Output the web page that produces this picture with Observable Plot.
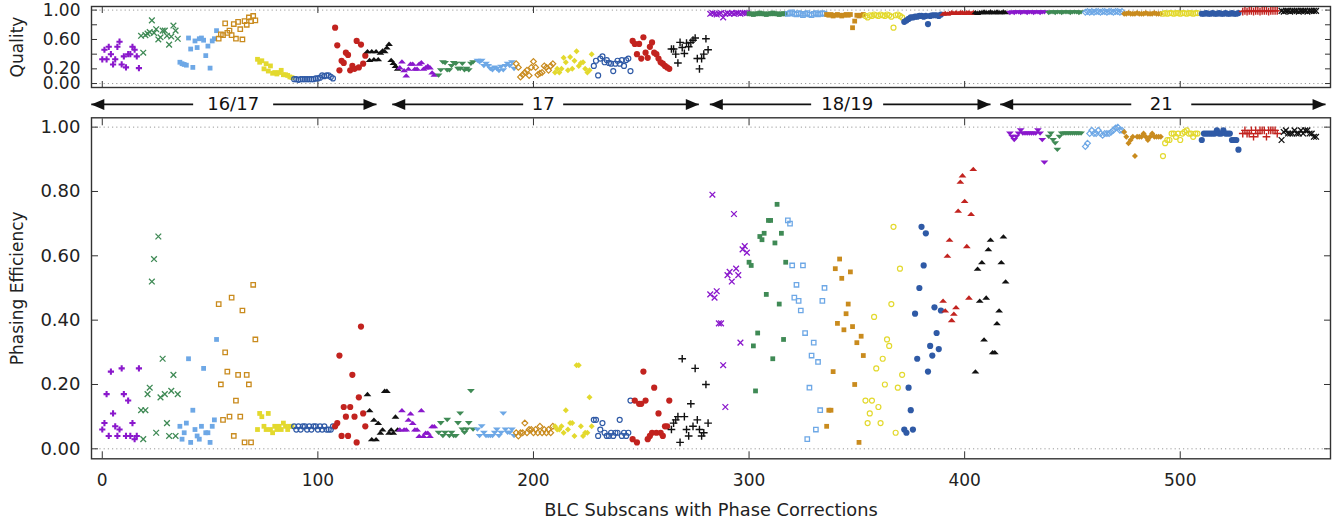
<!DOCTYPE html>
<html><head><meta charset="utf-8">
<script src="https://cdn.jsdelivr.net/npm/d3@7"></script>
<script src="https://cdn.jsdelivr.net/npm/@observablehq/plot@0.6"></script>
<style>
body{margin:0;background:#fff;}
#chart{position:relative;width:1343px;height:525px;background:#fff;}
#top{position:absolute;left:0;top:0;}
#bottom{position:absolute;left:0;top:112px;}
</style></head><body><div id="chart"><div id="top"></div><div id="bottom"></div></div>
<script>
// ---------------- DATA ----------------
// first BLC subscan index of each group of points
const groupStart = [0,18,36,54,72,89,108,123, 138,156,174,192,210,228,246,264,
  282,300,318,336,354,372,390,405, 421,439,456,474,492,510,529,547];

// Quality (top panel), one list per group
const quality = [
 [0.33,0.46,0.33,0.50,0.40,0.26,0.33,0.50,0.57,0.26,0.37,0.22,0.40,0.40,0.50,0.46,0.37,0.21],
 [0.65,0.42,0.66,0.68,0.70,0.86,0.69,0.74,0.60,0.63,0.72,0.72,0.65,0.53,0.64,0.79,0.72,0.61],
 [0.29,0.27,0.26,0.25,0.62,0.47,0.22,0.58,0.49,0.61,0.62,0.59,0.38,0.51,0.21,0.58,0.61,0.72],
 [0.61,0.67,0.66,0.82,0.69,0.72,0.66,0.81,0.61,0.84,0.74,0.60,0.85,0.80,0.90,0.85,0.92,0.86],
 [0.33,0.29,0.31,0.20,0.27,0.17,0.24,0.14,0.15,0.13,0.15,0.18,0.12,0.12,0.11,0.09,0.08],
 [0.06,0.06,0.05,0.06,0.06,0.06,0.06,0.06,0.06,0.06,0.07,0.07,0.08,0.11,0.10,0.11,0.11,0.09,0.07],
 [0.76,0.52,0.18,0.31,0.28,0.42,0.39,0.18,0.24,0.20,0.58,0.22,0.53,0.27,0.38],
 [0.44,0.32,0.44,0.33,0.44,0.33,0.42,0.45,0.44,0.49,0.54,0.32,0.28,0.24,0.20],
 [0.22,0.30,0.18,0.11,0.20,0.27,0.27,0.20,0.20,0.27,0.29,0.20,0.22,0.24,0.22,0.15,0.12],
 [0.11,0.18,0.29,0.28,0.18,0.18,0.24,0.28,0.27,0.20,0.20,0.27,0.18,0.20,0.18,0.27,0.29],
 [0.31,0.29,0.31,0.24,0.27,0.24,0.20,0.18,0.22,0.20,0.17,0.23,0.18,0.24,0.27,0.24,0.29,0.20],
 [0.27,0.22,0.09,0.12,0.15,0.18,0.11,0.22,0.30,0.22,0.12,0.14,0.15,0.24,0.22,0.18,0.24,0.27],
 [0.15,0.20,0.15,0.20,0.35,0.29,0.18,0.36,0.20,0.31,0.44,0.24,0.28,0.29,0.20,0.15,0.18,0.40],
 [0.24,0.31,0.11,0.34,0.37,0.29,0.32,0.28,0.27,0.17,0.27,0.31,0.27,0.32,0.24,0.32,0.34,0.17],
 [0.58,0.54,0.40,0.54,0.34,0.63,0.42,0.35,0.50,0.56,0.42,0.40,0.34,0.29,0.27,0.24,0.22,0.20],
 [0.47,0.47,0.40,0.28,0.56,0.49,0.41,0.55,0.50,0.56,0.59,0.62,0.34,0.20,0.34,0.40,0.61,0.46],
 [0.95,0.96,0.95,0.94,0.95,0.96,0.90,0.95,0.96,0.95,0.96,0.95,0.96,0.96,0.95,0.96,0.96,0.96],
 [0.95,0.95,0.94,0.95,0.95,0.96,0.95,0.95,0.94,0.95,0.95,0.96,0.95,0.95,0.94,0.95,0.95,0.95],
 [0.95,0.96,0.97,0.95,0.94,0.96,0.95,0.93,0.95,0.96,0.94,0.93,0.95,0.96,0.94,0.95,0.96,0.95],
 [0.94,0.93,0.94,0.92,0.93,0.94,0.93,0.92,0.93,0.94,0.93,0.94,0.76,0.85,0.93,0.92,0.93,0.94],
 [0.92,0.90,0.93,0.92,0.94,0.93,0.92,0.94,0.93,0.92,0.94,0.93,0.91,0.76,0.93,0.94,0.92,0.90],
 [0.84,0.86,0.88,0.90,0.90,0.91,0.91,0.92,0.92,0.91,0.92,0.81,0.92,0.93,0.93,0.93,0.92,0.94],
 [0.95,0.96,0.95,0.96,0.97,0.96,0.97,0.96,0.97,0.97,0.96,0.97,0.97,0.96,0.97],
 [0.97,0.96,0.97,0.97,0.98,0.97,0.97,0.98,0.97,0.97,0.98,0.97,0.97,0.98,0.97],
 [0.96,0.97,0.96,0.97,0.97,0.96,0.97,0.97,0.96,0.97,0.97,0.96,0.97,0.97,0.96,0.97,0.97],
 [0.96,0.97,0.97,0.96,0.97,0.97,0.96,0.97,0.97,0.97,0.96,0.97,0.97,0.97,0.96,0.97],
 [0.97,0.98,0.97,0.98,0.97,0.98,0.98,0.97,0.98,0.98,0.97,0.98,0.98,0.97,0.98,0.98,0.97,0.98],
 [0.95,0.95,0.96,0.95,0.95,0.95,0.96,0.95,0.95,0.95,0.96,0.95,0.95,0.95,0.96,0.95,0.95,0.95],
 [0.95,0.96,0.95,0.96,0.96,0.95,0.96,0.96,0.95,0.96,0.96,0.95,0.96,0.96,0.95,0.96,0.96],
 [0.95,0.95,0.96,0.95,0.95,0.96,0.95,0.95,0.96,0.95,0.95,0.96,0.95,0.95,0.96,0.95,0.95,0.96],
 [0.98,0.99,0.98,0.99,0.99,0.98,0.99,0.99,0.98,0.99,0.99,0.99,0.98,0.99,0.99,0.99,0.99],
 [0.99,0.98,0.99,0.99,0.98,0.99,0.99,0.99,0.98,0.99,0.99,0.99,0.98,0.99,0.99,0.99,0.99]
];

// Phasing efficiency (bottom panel), one list per group
const efficiency = [
 [0.06,0.08,0.17,0.04,0.24,0.11,0.07,0.04,0.06,0.25,0.17,0.04,0.15,0.04,0.08,0.03,0.04,0.25],
 [0.12,0.03,0.12,0.17,0.19,0.52,0.59,0.05,0.66,0.16,0.28,0.17,0.08,0.04,0.18,0.23,0.04,0.17],
 [0.07,0.03,0.05,0.08,0.28,0.02,0.12,0.06,0.04,0.03,0.07,0.25,0.05,0.05,0.02,0.07,0.09,0.34],
 [0.45,0.20,0.09,0.30,0.24,0.10,0.47,0.04,0.15,0.23,0.10,0.43,0.02,0.23,0.20,0.02,0.51,0.34],
 [0.06,0.11,0.10,0.07,0.06,0.11,0.06,0.05,0.07,0.06,0.07,0.06,0.08,0.07,0.06,0.07,0.07],
 [0.07,0.06,0.07,0.06,0.07,0.07,0.06,0.07,0.06,0.07,0.07,0.06,0.07,0.06,0.07,0.06,0.06,0.06,0.07],
 [0.07,0.08,0.29,0.04,0.13,0.10,0.04,0.13,0.23,0.10,0.02,0.16,0.38,0.11,0.07],
 [0.17,0.12,0.03,0.09,0.03,0.08,0.05,0.06,0.18,0.18,0.05,0.06,0.05,0.10,0.06],
 [0.06,0.12,0.06,0.06,0.09,0.11,0.08,0.06,0.06,0.04,0.12,0.04,0.05,0.05,0.04,0.07,0.07],
 [0.05,0.08,0.04,0.05,0.09,0.04,0.05,0.04,0.04,0.08,0.11,0.06,0.05,0.06,0.08,0.18,0.06],
 [0.06,0.04,0.07,0.05,0.04,0.04,0.04,0.04,0.05,0.06,0.04,0.05,0.11,0.06,0.05,0.05,0.06,0.04],
 [0.05,0.04,0.05,0.05,0.08,0.05,0.06,0.06,0.05,0.06,0.05,0.07,0.05,0.06,0.05,0.06,0.05,0.07],
 [0.07,0.06,0.06,0.07,0.05,0.12,0.06,0.08,0.08,0.04,0.26,0.26,0.07,0.04,0.05,0.05,0.16,0.07],
 [0.09,0.09,0.04,0.06,0.08,0.05,0.04,0.04,0.05,0.04,0.05,0.05,0.09,0.04,0.05,0.04,0.05,0.15],
 [0.03,0.15,0.02,0.14,0.14,0.24,0.15,0.03,0.04,0.05,0.19,0.05,0.11,0.05,0.04,0.07,0.07,0.15],
 [0.06,0.08,0.09,0.10,0.02,0.28,0.10,0.06,0.04,0.14,0.07,0.25,0.09,0.06,0.04,0.05,0.20,0.08],
 [0.48,0.79,0.47,0.49,0.39,0.39,0.26,0.13,0.54,0.55,0.52,0.73,0.56,0.54,0.33,0.62,0.63,0.61],
 [0.58,0.57,0.32,0.18,0.36,0.66,0.65,0.67,0.48,0.71,0.71,0.28,0.64,0.76,0.45,0.67,0.34,0.58],
 [0.71,0.70,0.57,0.47,0.51,0.46,0.43,0.57,0.36,0.03,0.19,0.29,0.33,0.06,0.27,0.12,0.46,0.50],
 [0.07,0.12,0.12,0.24,0.56,0.39,0.59,0.53,0.37,0.42,0.45,0.55,0.38,0.20,0.33,0.02,0.35,0.29],
 [0.15,0.08,0.11,0.15,0.41,0.25,0.13,0.08,0.28,0.20,0.34,0.32,0.45,0.69,0.05,0.19,0.56,0.23],
 [0.06,0.05,0.19,0.12,0.06,0.42,0.28,0.50,0.69,0.57,0.67,0.24,0.32,0.29,0.44,0.36,0.31,0.43],
 [0.46,0.43,0.60,0.65,0.40,0.42,0.44,0.74,0.83,0.85,0.77,0.63,0.47,0.73,0.87],
 [0.24,0.56,0.46,0.58,0.34,0.47,0.62,0.65,0.30,0.30,0.39,0.43,0.58,0.66,0.52],
 [0.98,0.97,0.96,0.97,0.98,0.99,0.98,0.98,0.98,0.98,0.98,0.98,0.98,0.99,0.98,0.96,0.89],
 [0.97,0.98,0.96,0.95,0.93,0.97,0.98,0.98,0.98,0.98,0.98,0.98,0.98,0.98,0.98,0.98],
 [0.94,0.95,0.98,0.99,0.98,0.98,0.99,0.98,0.975,0.98,0.98,0.98,0.985,0.99,0.997,1.0,0.99,0.99],
 [0.985,0.97,0.95,0.96,0.97,0.91,0.97,0.97,0.97,0.98,0.97,0.96,0.97,0.98,0.97,0.97,0.97,0.97],
 [0.91,0.95,0.96,0.96,0.98,0.98,0.97,0.98,0.96,0.98,0.985,0.99,0.98,0.98,0.97,0.98,0.98],
 [0.96,0.98,0.98,0.98,0.98,0.98,0.98,0.99,0.98,0.98,0.99,0.98,0.98,0.98,0.96,0.96,0.96,0.93],
 [0.98,0.99,0.98,0.98,0.99,0.97,0.99,0.98,0.99,0.99,0.99,0.97,0.99,0.99,0.99,0.99,0.98],
 [0.96,0.985,0.99,0.98,0.98,0.98,0.99,0.98,0.98,0.99,0.98,0.99,0.99,0.98,0.98,0.97,0.97]
];

// observing sessions (arrows between the panels)
const sessionLabel  = ["16/17", "17", "18/19", "21"];
const sessionStart  = [-5.1, 134.5, 281.8, 416.5];
const sessionEnd    = [127.2, 276.7, 412.0, 567.4];
const sessionCenter = [60.7, 204.5, 345.5, 491.2];

const yTicks = [0, 0.2, 0.4, 0.6, 0.8, 1.0];
const yTicksTopLabeled = [0, 0.2, 0.6, 1.0];
const xTicks = [0, 100, 200, 300, 400, 500];

// ---------------- STYLE ----------------
const colorCycle = ["#8a18cc","#3f8a55","#6ea8e6","#c98b1e","#e3d92e","#2f5aa6","#c2231f","#111111"];
const groupSymbol = ["cross","times","squareF","squareO","squareF","circleO","circleF","triUp",
  "triUp","triDown","triDown","diamondO","diamondF","circleO","circleF","plus",
  "times","squareF","squareO","squareF","circleO","circleF","triUp","triUp",
  "triDown","triDown","diamondO","diamondF","circleO","circleF","plus","times"];
const sessionGapPx = [40, 20, 36, 30];

const triUpSym = {draw(c){ c.moveTo(0,-2.3); c.lineTo(3.9,2); c.lineTo(-3.9,2); c.closePath(); }};
const triDownSym = {draw(c){ c.moveTo(0,2.3); c.lineTo(3.9,-2); c.lineTo(-3.9,-2); c.closePath(); }};
const headRight = {draw(c){ c.moveTo(0,0); c.lineTo(-13,-5.5); c.lineTo(-13,5.5); c.closePath(); }};
const headLeft  = {draw(c){ c.moveTo(0,0); c.lineTo(13,-5.5); c.lineTo(13,5.5); c.closePath(); }};

const symbolStyles = {
  cross:   {symbol:"cross",    filled:true,  r:2.6},
  times:   {symbol:"times",    filled:false, r:2.7, sw:1.3},
  plus:    {symbol:"plus",     filled:false, r:2.6, sw:1.4},
  squareF: {symbol:"square",   filled:true,  r:2.7},
  squareO: {symbol:"square",   filled:false, r:2.5, sw:1.3},
  circleF: {symbol:"circle",   filled:true,  r:3.1},
  circleO: {symbol:"circle",   filled:false, r:2.5, sw:1.2},
  diamondF:{symbol:"diamond2", filled:true,  r:2.7},
  diamondO:{symbol:"diamond2", filled:false, r:2.6, sw:1.2},
  triUp:   {symbol:triUpSym,   filled:true,  r:3},
  triDown: {symbol:triDownSym, filled:true,  r:3}
};

const FONT = "DejaVu Sans";
const xDomain = [-5, 569.7];

function dotMarks(field) {
  return groupStart.map((start, g) => {
    const rows = efficiency[g].map((e, i) => ({x: start + i, e, q: quality[g][i]}))
      .filter(d => d[field] != null);
    const st = symbolStyles[groupSymbol[g]];
    const col = colorCycle[g % colorCycle.length];
    return Plot.dot(rows, {
      x: "x", y: field, symbol: st.symbol, r: st.r,
      fill: st.filled ? col : "none",
      stroke: st.filled ? "none" : col,
      strokeWidth: st.sw || 1.2
    });
  });
}

function frameMarks(labeledTicks, tickLen, labelSize) {
  const none = () => "";
  return [
    Plot.ruleY([0, 1], {stroke: "#9a9a9a", strokeWidth: 1, strokeDasharray: "1.2,3"}),
    Plot.axisY({anchor: "left", ticks: yTicks, tickSize: -tickLen, tickFormat: none, label: null, stroke: "#333"}),
    Plot.axisY({anchor: "right", ticks: yTicks, tickSize: -tickLen, tickFormat: none, label: null, stroke: "#333"}),
    Plot.axisY({anchor: "left", ticks: labeledTicks, tickSize: 0, tickPadding: 11, tickFormat: d3.format(".2f"), label: null, fontSize: labelSize, fill: "#222"}),
    Plot.axisX({anchor: "top", ticks: xTicks, tickSize: -tickLen, tickFormat: none, label: null, stroke: "#333"}),
    Plot.axisX({anchor: "bottom", ticks: xTicks, tickSize: -tickLen, tickFormat: none, label: null, stroke: "#333"}),
    Plot.frame({stroke: "#333", strokeWidth: 1.4})
  ];
}

// ---------------- TOP PANEL (Quality + session arrows) ----------------
const arrowRow = -0.285; // y level (in quality units) of the session arrows
const segs = [];
const heads = [];
sessionLabel.forEach((lab, i) => {
  const gap = sessionGapPx[i] / 2.156;
  segs.push({a: sessionStart[i], b: sessionCenter[i] - gap});
  segs.push({a: sessionCenter[i] + gap, b: sessionEnd[i]});
  heads.push({x: sessionStart[i], dir: "L"}, {x: sessionEnd[i], dir: "R"});
});
const sessions = sessionLabel.map((label, i) => ({label, x: sessionCenter[i]}));

const topPlot = Plot.plot({
  width: 1343, height: 112,
  marginLeft: 91, marginRight: 13, marginTop: 6, marginBottom: 25,
  x: {domain: xDomain},
  y: {domain: [-0.054, 1.049]},
  style: {fontFamily: FONT, fontSize: "17px", background: "transparent", overflow: "visible", color: "#222"},
  marks: [
    ...frameMarks(yTicksTopLabeled, 6, 17),
    ...dotMarks("q"),
    Plot.text(["Quality"], {frameAnchor: "left", dx: -74, rotate: -90, textAnchor: "middle", text: d => d, fontSize: 17, fill: "#222"}),
    Plot.link(segs, {x1: "a", x2: "b", y1: () => arrowRow, y2: () => arrowRow, stroke: "#111", strokeWidth: 1.8}),
    Plot.dot(heads.filter(d => d.dir === "L"), {x: "x", y: () => arrowRow, symbol: headLeft, r: 5, fill: "#111", stroke: "none"}),
    Plot.dot(heads.filter(d => d.dir === "R"), {x: "x", y: () => arrowRow, symbol: headRight, r: 5, fill: "#111", stroke: "none"}),
    Plot.text(sessions, {x: "x", y: () => arrowRow, text: "label", fontSize: 18, fill: "#111"})
  ]
});
document.getElementById("top").append(topPlot);

// ---------------- BOTTOM PANEL (Phasing efficiency) ----------------
const bottomPlot = Plot.plot({
  width: 1343, height: 413,
  marginLeft: 91, marginRight: 13, marginTop: 5.3, marginBottom: 66.7,
  x: {domain: xDomain},
  y: {domain: [-0.031, 1.029]},
  style: {fontFamily: FONT, fontSize: "17px", background: "transparent", overflow: "visible", color: "#222"},
  marks: [
    ...frameMarks(yTicks, 7, 18),
    Plot.axisX({anchor: "bottom", ticks: xTicks, tickSize: 0, tickPadding: 15, tickFormat: d3.format("d"), label: null, fontSize: 17, fill: "#222"}),
    ...dotMarks("e"),
    Plot.text(["Phasing Efficiency"], {frameAnchor: "left", dx: -74, rotate: -90, textAnchor: "middle", text: d => d, fontSize: 17, fill: "#222"}),
    Plot.text(["BLC Subscans with Phase Corrections"], {frameAnchor: "bottom", dy: 57, text: d => d, fontSize: 17.8, fill: "#222"})
  ]
});
document.getElementById("bottom").append(bottomPlot);
</script>
</body></html>
